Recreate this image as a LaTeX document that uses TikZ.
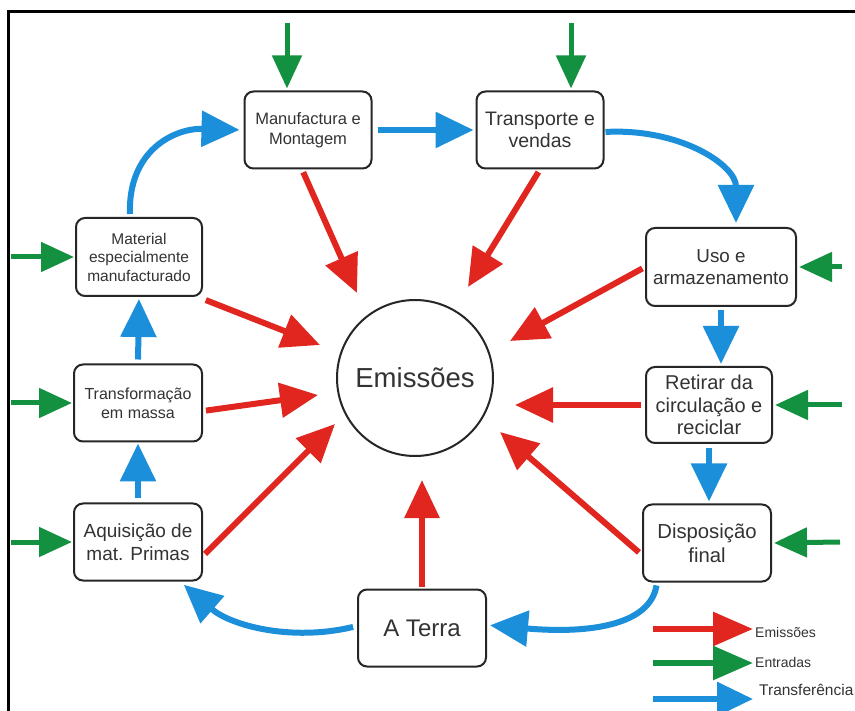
\documentclass[tikz,border=0pt]{standalone}
\usepackage{fontspec}
\setmainfont{Liberation Sans}
\usetikzlibrary{arrows.meta}
\definecolor{myred}{RGB}{224,38,31}
\definecolor{mygreen}{RGB}{20,145,64}
\definecolor{myblue}{RGB}{27,143,218}
\tikzset{
  box/.style={draw=black!85, line width=2pt, rounded corners=9pt, fill=white, inner sep=0pt, align=center, text=black!80},
  redarr/.style={draw=myred, line width=6pt, -{Triangle[length=38pt,width=34pt]}},
  grnarr/.style={draw=mygreen, line width=5pt, -{Triangle[length=33pt,width=29pt]}},
  bluarr/.style={draw=myblue, line width=6pt, -{Triangle[length=38pt,width=35pt]}},
  legtext/.style={anchor=west, inner sep=0pt, text=black!80, font=\fontsize{14}{16}\selectfont}
}
\begin{document}
\begin{tikzpicture}[x=1pt,y=-1pt]
\useasboundingbox (0,0) rectangle (855,711);
\fill[white] (0,0) rectangle (855,711);
\draw[line width=3pt] (8.5,711) -- (8.5,11.5) -- (855,11.5);

% boxes
\node[box, minimum width=127pt, minimum height=77pt, font=\fontsize{16.5}{19.5}\selectfont] (manu) at (308,130) {Manufactura e\\Montagem};
\node[box, minimum width=127pt, minimum height=77pt, font=\fontsize{19.5}{22.5}\selectfont] (trans) at (540,130) {Transporte e\\vendas};
\node[box, minimum width=150pt, minimum height=78pt, font=\fontsize{18.8}{21.5}\selectfont] (uso) at (721,267) {Uso e\\armazenamento};
\node[box, minimum width=126pt, minimum height=76pt, font=\fontsize{20}{22.5}\selectfont] (ret) at (709,405) {Retirar da\\circulação e\\reciclar};
\node[box, minimum width=128pt, minimum height=77pt, font=\fontsize{20.3}{23.5}\selectfont] (disp) at (707,543) {Disposição\\final};
\node[box, minimum width=128pt, minimum height=77pt, font=\fontsize{24}{28}\selectfont] (terra) at (422,628) {A Terra};
\node[box, minimum width=128pt, minimum height=77pt, font=\fontsize{19}{22.5}\selectfont] (aqu) at (138,542) {Aquisição de\\mat. Primas};
\node[box, minimum width=128pt, minimum height=77pt, font=\fontsize{16}{19}\selectfont] (tm) at (138,403) {Transformação\\em massa};
\node[box, minimum width=126pt, minimum height=78pt, font=\fontsize{15.5}{18.5}\selectfont] (mat) at (139,257) {Material\\especialmente\\manufacturado};
\node[draw=black!85, line width=2pt, circle, minimum size=156pt, inner sep=0pt, fill=white, text=black!80, font=\fontsize{27.5}{31}\selectfont] (em) at (415,378) {Emissões};

% red emission arrows
\coordinate (r1) at (357,293);
\coordinate (r2) at (468,287);
\coordinate (r3) at (510,341);
\coordinate (r4) at (515,405);
\coordinate (r5) at (500,432);
\coordinate (r6) at (422,480);
\coordinate (r7) at (335,424);
\coordinate (r8) at (318,395);
\coordinate (r9) at (320,345);
\draw[redarr, shorten <=3pt] ([xshift=-6pt]manu.south) -- (r1);
\draw[redarr, shorten <=3pt] (trans.south) -- (r2);
\draw[redarr, shorten <=3pt] (uso.west) -- (r3);
\draw[redarr, shorten <=4pt] (ret.west) -- (r4);
\draw[redarr, shorten <=4pt] ([yshift=-12pt]disp.west) -- (r5);
\draw[redarr, shorten <=2pt] (terra.north) -- (r6);
\draw[redarr, shorten <=3pt] ([yshift=-14pt]aqu.east) -- (r7);
\draw[redarr, shorten <=3pt] ([yshift=-8pt]tm.east) -- (r8);
\draw[redarr, shorten <=3pt] ([yshift=-2pt]mat.south east) -- (r9);

% green input arrows
\coordinate (g1) at (287,23);
\coordinate (g2) at (571,23);
\coordinate (g3) at (842,267);
\coordinate (g4) at (842,405);
\coordinate (g5) at (840,542);
\coordinate (g6) at (11,257);
\coordinate (g7) at (11,403);
\coordinate (g8) at (11,542);
\draw[grnarr, shorten >=2pt] (g1) -- ([xshift=-21pt]manu.north);
\draw[grnarr, shorten >=2pt] (g2) -- ([xshift=31pt]trans.north);
\draw[grnarr, shorten >=2pt] (g3) -- (uso.east);
\draw[grnarr, shorten >=2pt] (g4) -- (ret.east);
\draw[grnarr, shorten >=2pt] (g5) -- (disp.east);
\draw[grnarr, shorten >=1pt] (g6) -- (mat.west);
\draw[grnarr, shorten >=1pt] (g7) -- (tm.west);
\draw[grnarr, shorten >=1pt] (g8) -- (aqu.west);

% blue transfer arrows
\draw[bluarr, shorten <=4pt, shorten >=1pt] (aqu.north) -- (tm.south);
\draw[bluarr, shorten <=4pt, shorten >=2pt] (tm.north) -- (mat.south);
\draw[bluarr, shorten <=5pt, shorten >=2pt] (manu.east) -- (trans.west);
\draw[bluarr, shorten <=3pt, shorten >=2pt] (uso.south) -- (uso.south |- ret.north);
\draw[bluarr, shorten <=4pt, shorten >=2pt] (ret.south) -- (ret.south |- disp.north);
\draw[bluarr, shorten <=3pt, shorten >=4pt] ([xshift=-9pt]mat.north) .. controls (128,150) and (175,128) .. (manu.west);
\draw[bluarr, shorten <=1pt, shorten >=4pt] ([yshift=-2pt]trans.east) .. controls (680,128) and (736,165) .. ([xshift=15pt]uso.north);
\draw[bluarr, shorten <=3pt, shorten >=3pt] ([xshift=-50pt]disp.south) .. controls (650,625) and (590,634) .. ([yshift=3pt]terra.east);
\draw[bluarr, shorten <=4pt, shorten >=5pt] ([yshift=2pt]terra.west) .. controls (290,642) and (230,625) .. ([xshift=42pt]aqu.south);

% legend
\coordinate (l1s) at (653,629); \coordinate (l1e) at (753,629);
\coordinate (l2s) at (653,663); \coordinate (l2e) at (753,663);
\coordinate (l3s) at (653,699); \coordinate (l3e) at (753,699);
\draw[redarr, -{Triangle[length=40pt,width=33pt]}] (l1s) -- (l1e);
\draw[grnarr, line width=6pt, -{Triangle[length=40pt,width=33pt]}] (l2s) -- (l2e);
\draw[bluarr, -{Triangle[length=36pt,width=33pt]}] (l3s) -- (l3e);
\node[legtext] (lt1) at (755,632) {Emissões};
\node[legtext] (lt2) at (755,662) {Entradas};
\node[legtext, font=\fontsize{15.5}{18}\selectfont] (lt3) at (759,690) {Transferência};
\end{tikzpicture}
\end{document}
